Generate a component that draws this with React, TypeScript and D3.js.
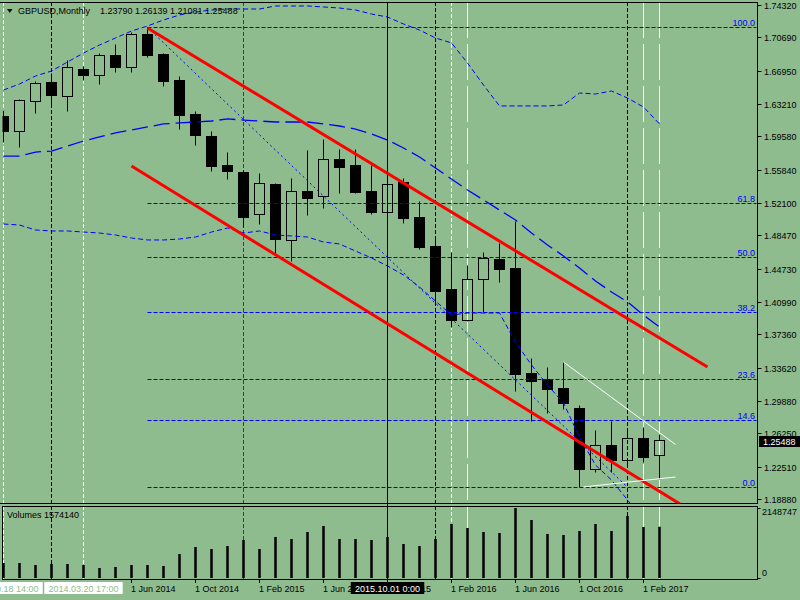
import React from 'react';
import * as d3 from 'd3';

// ---- Data (GBPUSD monthly, Oct 2013 .. Mar 2017) ----
const opens = [1.6186, 1.6018, 1.6355, 1.6568, 1.6411, 1.6714, 1.6646, 1.6871, 1.6736, 1.7107, 1.6882, 1.6590, 1.6209, 1.5962, 1.5636, 1.5558, 1.5086, 1.5423, 1.4795, 1.5345, 1.5288, 1.5704, 1.5636, 1.5345, 1.5109, 1.5446, 1.5053, 1.4727, 1.4245, 1.3897, 1.4357, 1.4581, 1.4480, 1.3302, 1.3235, 1.3134, 1.2909, 1.2225, 1.2494, 1.2326, 1.2572, 1.2379];
const highs = [1.6254, 1.6377, 1.6579, 1.6669, 1.6815, 1.6747, 1.6893, 1.6994, 1.7129, 1.7180, 1.6893, 1.6635, 1.6242, 1.6018, 1.5782, 1.5580, 1.5547, 1.5434, 1.5490, 1.5805, 1.5928, 1.5816, 1.5816, 1.5636, 1.5558, 1.5490, 1.5232, 1.4840, 1.4660, 1.4514, 1.4660, 1.4761, 1.5008, 1.3470, 1.3369, 1.3425, 1.2943, 1.2662, 1.2763, 1.2685, 1.2696, 1.2614];
const lows = [1.5894, 1.5838, 1.6220, 1.6287, 1.6242, 1.6590, 1.6545, 1.6680, 1.6680, 1.6848, 1.6523, 1.6040, 1.5861, 1.5569, 1.5479, 1.4941, 1.4974, 1.4626, 1.4559, 1.5075, 1.5154, 1.5322, 1.5322, 1.5086, 1.5086, 1.4985, 1.4694, 1.4065, 1.3818, 1.3886, 1.3987, 1.4323, 1.3100, 1.2763, 1.2853, 1.2898, 1.2023, 1.2191, 1.2191, 1.2258, 1.2303, 1.2108];
const closes = [1.6018, 1.6366, 1.6557, 1.6422, 1.6736, 1.6646, 1.6871, 1.6736, 1.7107, 1.6871, 1.6579, 1.6198, 1.5973, 1.5625, 1.5569, 1.5053, 1.5434, 1.4806, 1.5345, 1.5266, 1.5704, 1.5614, 1.5333, 1.5109, 1.5423, 1.5042, 1.4716, 1.4222, 1.3897, 1.4357, 1.4593, 1.4469, 1.3291, 1.3212, 1.3122, 1.2965, 1.2225, 1.2494, 1.2326, 1.2572, 1.2359, 1.2549];
const volumes = [460000, 460000, 399000, 430000, 430000, 399000, 307000, 338000, 399000, 399000, 368000, 737000, 952000, 890000, 982000, 1166000, 890000, 1259000, 1197000, 1412000, 1596000, 1197000, 1197000, 1166000, 1259000, 1044000, 982000, 1197000, 1658000, 1535000, 1412000, 1381000, 2148747, 1780000, 1351000, 1320000, 1443000, 1658000, 1443000, 1903000, 1566000, 1574140];

const bbUpper = [1.6478, 1.6545, 1.6635, 1.6691, 1.6792, 1.6893, 1.6983, 1.7062, 1.7140, 1.7196, 1.7264, 1.7320, 1.7353, 1.7376, 1.7387, 1.7387, 1.7387, 1.7421, 1.7421, 1.7421, 1.7410, 1.7398, 1.7376, 1.7331, 1.7297, 1.7219, 1.7151, 1.7062, 1.7006, 1.6781, 1.6534, 1.6299, 1.6299, 1.6299, 1.6299, 1.6310, 1.6444, 1.6433, 1.6467, 1.6388, 1.6287, 1.6097];
const bbMiddle = [1.5737, 1.5737, 1.5782, 1.5793, 1.5850, 1.5906, 1.5951, 1.5996, 1.6029, 1.6063, 1.6097, 1.6108, 1.6119, 1.6130, 1.6153, 1.6141, 1.6130, 1.6119, 1.6119, 1.6119, 1.6097, 1.6074, 1.6040, 1.5984, 1.5917, 1.5827, 1.5726, 1.5603, 1.5479, 1.5356, 1.5244, 1.5131, 1.5019, 1.4873, 1.4739, 1.4615, 1.4480, 1.4335, 1.4211, 1.4099, 1.3953, 1.3818];
const bbLower = [1.4974, 1.4963, 1.4907, 1.4896, 1.4896, 1.4884, 1.4873, 1.4851, 1.4817, 1.4795, 1.4795, 1.4806, 1.4828, 1.4884, 1.4929, 1.4873, 1.4896, 1.4851, 1.4840, 1.4828, 1.4772, 1.4750, 1.4671, 1.4593, 1.4503, 1.4402, 1.4267, 1.4110, 1.3953, 1.3975, 1.3975, 1.3975, 1.3650, 1.3392, 1.3167, 1.2965, 1.2584, 1.2269, 1.2101, 1.1877, 1.1652, 1.1428];

const priceTicks = [1.7432, 1.7069, 1.6695, 1.6321, 1.5958, 1.5584, 1.521, 1.4847, 1.4473, 1.4099, 1.3736, 1.3362, 1.2988, 1.2625, 1.2251, 1.1888];
const timeTickIndex = [8, 12, 16, 20, 24, 28, 32, 36, 40];
const timeTickLabels = ['1 Jun 2014', '1 Oct 2014', '1 Feb 2015', '1 Jun 2015', '1 Oct 2015', '1 Feb 2016', '1 Jun 2016', '1 Oct 2016', '1 Feb 2017'];

const fibLevels = [100, 61.8, 50, 38.2, 23.6, 14.6, 0];
const fibLabels = ['100.0', '61.8', '50.0', '38.2', '23.6', '14.6', '0.0'];
const fibHigh = 1.718;
const fibLow = 1.202;
const fibStartIndex = 9;
const fibEndIndex = 39;

const redLines = [
  { i1: 9, p1: 1.7174, i2: 44, p2: 1.3369 },
  { i1: 8, p1: 1.5625, i2: 44, p2: 1.1642 },
];
const whiteLines = [
  { i1: 35, p1: 1.3425, i2: 42, p2: 1.25 },
  { i1: 36.25, p1: 1.2023, i2: 42, p2: 1.2135 },
];

const vLineIndex = [0, 3, 5, 15, 24, 27, 28, 29, 39, 40, 41];
const vLineKind = ['whiteDash', 'blackDash', 'whiteDash', 'redDash', 'blackSolid', 'blackDash', 'whiteDash', 'whiteLong', 'blackDash', 'whiteLong', 'whiteLong'];

const timeMarkerIndex = [0, 5, 24];
const timeMarkerText = ['2013.10.18 14:00', '2014.03.20 17:00', '2015.10.01 0:00'];
const timeMarkerDark = [false, false, true];

const symbolTitle = 'GBPUSD,Monthly';
const ohlcText = '1.23790 1.26139 1.21081 1.25488';
const lastPrice = 1.25488;
const volumeTitle = 'Volumes 1574140';
const volumeMax = 2148747;

const BG = '#8fbc8f';
const FONT = '"Liberation Sans", Arial, sans-serif';

const styles: Record<string, { stroke: string; dash?: string }> = {
  whiteDash: { stroke: '#ffffff', dash: '4,2' },
  blackDash: { stroke: '#000000', dash: '4,2' },
  redDash: { stroke: '#d40000', dash: '4,2' },
  blackSolid: { stroke: '#000000' },
  whiteLong: { stroke: '#ffffff', dash: '36,6' },
};

export default function App() {
  const x = d3.scaleLinear().domain([0, 1]).range([3.5, 19.5]);
  const y = d3.scaleLinear().domain([1.1888, 1.7432]).range([499, 5]);
  const vy = d3.scaleLinear().domain([0, volumeMax]).range([578, 508]);
  const AX = 757.5;
  const crisp = (v: number) => Math.round(v) + 0.5;

  const bandLine = d3
    .line<number>()
    .x((_, i) => x(i))
    .y((d) => y(d));

  const fibPrice = (lvl: number) => fibLow + (fibHigh - fibLow) * (lvl / 100);

  return (
    <svg
      width={800}
      height={600}
      style={{ position: 'fixed', left: 0, top: 0, background: BG }}
      fontFamily={FONT}
      fontSize={9}
    >
      <defs>
        <clipPath id="mainClip">
          <rect x={2.5} y={2.5} width={AX - 2.5} height={500.5} />
        </clipPath>
        <clipPath id="volClip">
          <rect x={2.5} y={506.5} width={AX - 2.5} height={73} />
        </clipPath>
      </defs>
      <rect x={0} y={0} width={800} height={600} fill={BG} />

      {/* vertical lines */}
      <g>
        {vLineIndex.map((idx, k) => {
          const s = styles[vLineKind[k]];
          return (
            <line
              key={'v' + k}
              x1={x(idx)}
              x2={x(idx)}
              y1={2}
              y2={579}
              stroke={s.stroke}
              strokeDasharray={s.dash}
              strokeWidth={1}
            />
          );
        })}
      </g>

      {/* candles */}
      <g clipPath="url(#mainClip)">
        {closes.map((c, i) => {
          const o = opens[i];
          const cx = x(i);
          const yH = crisp(y(highs[i]));
          const yL = crisp(y(lows[i]));
          const yTop = crisp(y(Math.max(o, c)));
          const yBot = crisp(y(Math.min(o, c)));
          const bull = c >= o;
          return (
            <g key={'c' + i}>
              <line x1={cx} x2={cx} y1={yH} y2={yTop} stroke="#000" />
              <line x1={cx} x2={cx} y1={yBot} y2={yL} stroke="#000" />
              {bull ? (
                <rect x={cx - 5} y={yTop} width={10} height={Math.max(1, yBot - yTop)} fill="none" stroke="#000" />
              ) : (
                <rect x={cx - 5.5} y={yTop - 0.5} width={11} height={Math.max(1, yBot - yTop + 1)} fill="#000" />
              )}
            </g>
          );
        })}
      </g>

      {/* indicators, fibo, trend lines */}
      <g clipPath="url(#mainClip)">
        <path d={bandLine(bbUpper) || ''} fill="none" stroke="#0000ff" strokeWidth={1} strokeDasharray="5,3" />
        <path d={bandLine(bbMiddle) || ''} fill="none" stroke="#0000ff" strokeWidth={1.3} strokeDasharray="16,6" />
        <path d={bandLine(bbLower) || ''} fill="none" stroke="#0000ff" strokeWidth={1} strokeDasharray="5,3" />

        {fibLevels.map((lvl, k) => {
          const yy = crisp(y(fibPrice(lvl)));
          return (
            <g key={'f' + k}>
              <line x1={x(fibStartIndex)} x2={AX - 1} y1={yy} y2={yy} stroke="#0000ff" strokeDasharray="4,2" />
              <text x={755} y={yy - 2} textAnchor="end" fill="#0000ff">
                {fibLabels[k]}
              </text>
            </g>
          );
        })}
        <line
          x1={x(fibStartIndex)}
          y1={y(fibHigh)}
          x2={x(fibEndIndex)}
          y2={y(fibLow)}
          stroke="#0000ff"
          strokeDasharray="2,3"
        />

        {redLines.map((l, k) => (
          <line key={'r' + k} x1={x(l.i1)} y1={y(l.p1)} x2={x(l.i2)} y2={y(l.p2)} stroke="#ff0000" strokeWidth={3} />
        ))}
        {whiteLines.map((l, k) => (
          <line key={'w' + k} x1={x(l.i1)} y1={y(l.p1)} x2={x(l.i2)} y2={y(l.p2)} stroke="#ffffff" strokeWidth={1} />
        ))}
      </g>

      {/* volume bars */}
      <g clipPath="url(#volClip)">
        {volumes.map((v, i) => (
          <rect key={'vb' + i} x={x(i) - 1.25} y={vy(v)} width={2.5} height={vy(0) - vy(v)} fill="#000" />
        ))}
      </g>

      {/* frames */}
      <g stroke="#000" strokeWidth={1} fill="none">
        <line x1={0} x2={AX} y1={2.5} y2={2.5} />
        <line x1={AX} x2={AX} y1={2} y2={504} />
        <line x1={0} x2={AX} y1={503.5} y2={503.5} />
        <rect x={2.5} y={506.5} width={AX - 2.5} height={73} />
      </g>

      {/* price axis */}
      <g>
        {priceTicks.map((p, k) => {
          const yy = crisp(y(p));
          return (
            <g key={'pt' + k}>
              <line x1={AX} x2={AX + 4} y1={yy} y2={yy} stroke="#000" />
              <text x={764} y={yy + 3.5} fill="#000">
                {p.toFixed(5)}
              </text>
            </g>
          );
        })}
        <rect x={759} y={crisp(y(lastPrice)) - 4.5} width={41} height={11} fill="#000" />
        <text x={763} y={crisp(y(lastPrice)) + 4} fill="#fff">
          {lastPrice.toFixed(5)}
        </text>
      </g>

      {/* volume axis */}
      <line x1={AX} x2={AX + 3} y1={crisp(vy(volumeMax))} y2={crisp(vy(volumeMax))} stroke="#000" />
      <line x1={AX} x2={AX + 3} y1={crisp(vy(0))} y2={crisp(vy(0))} stroke="#000" />
      <text x={762} y={515} fill="#000">
        {String(volumeMax)}
      </text>
      <text x={762} y={576} fill="#000">
        0
      </text>

      {/* time axis */}
      {timeTickIndex.map((idx, k) => (
        <g key={'tt' + k}>
          <line x1={x(idx)} x2={x(idx)} y1={579.5} y2={583} stroke="#000" />
          <text x={x(idx) - 0.5} y={592} fill="#000">
            {timeTickLabels[k]}
          </text>
        </g>
      ))}
      {timeMarkerIndex.map((idx, k) => {
        const w = timeMarkerText[k].length * 4.9;
        const cx = x(idx);
        return (
          <g key={'tm' + k}>
            <rect x={cx - w / 2} y={582} width={w} height={12} fill={timeMarkerDark[k] ? '#000' : '#fff'} />
            <text x={cx} y={592} textAnchor="middle" fill={timeMarkerDark[k] ? '#fff' : BG}>
              {timeMarkerText[k]}
            </text>
          </g>
        );
      })}

      {/* titles */}
      <path d="M7,9 L12.5,9 L9.75,13 Z" fill="#000" />
      <text x={18} y={14} fill="#000">
        {symbolTitle}
      </text>
      <text x={100} y={14} fill="#000">
        {ohlcText}
      </text>
      <text x={7} y={518} fill="#000">
        {volumeTitle}
      </text>
    </svg>
  );
}
